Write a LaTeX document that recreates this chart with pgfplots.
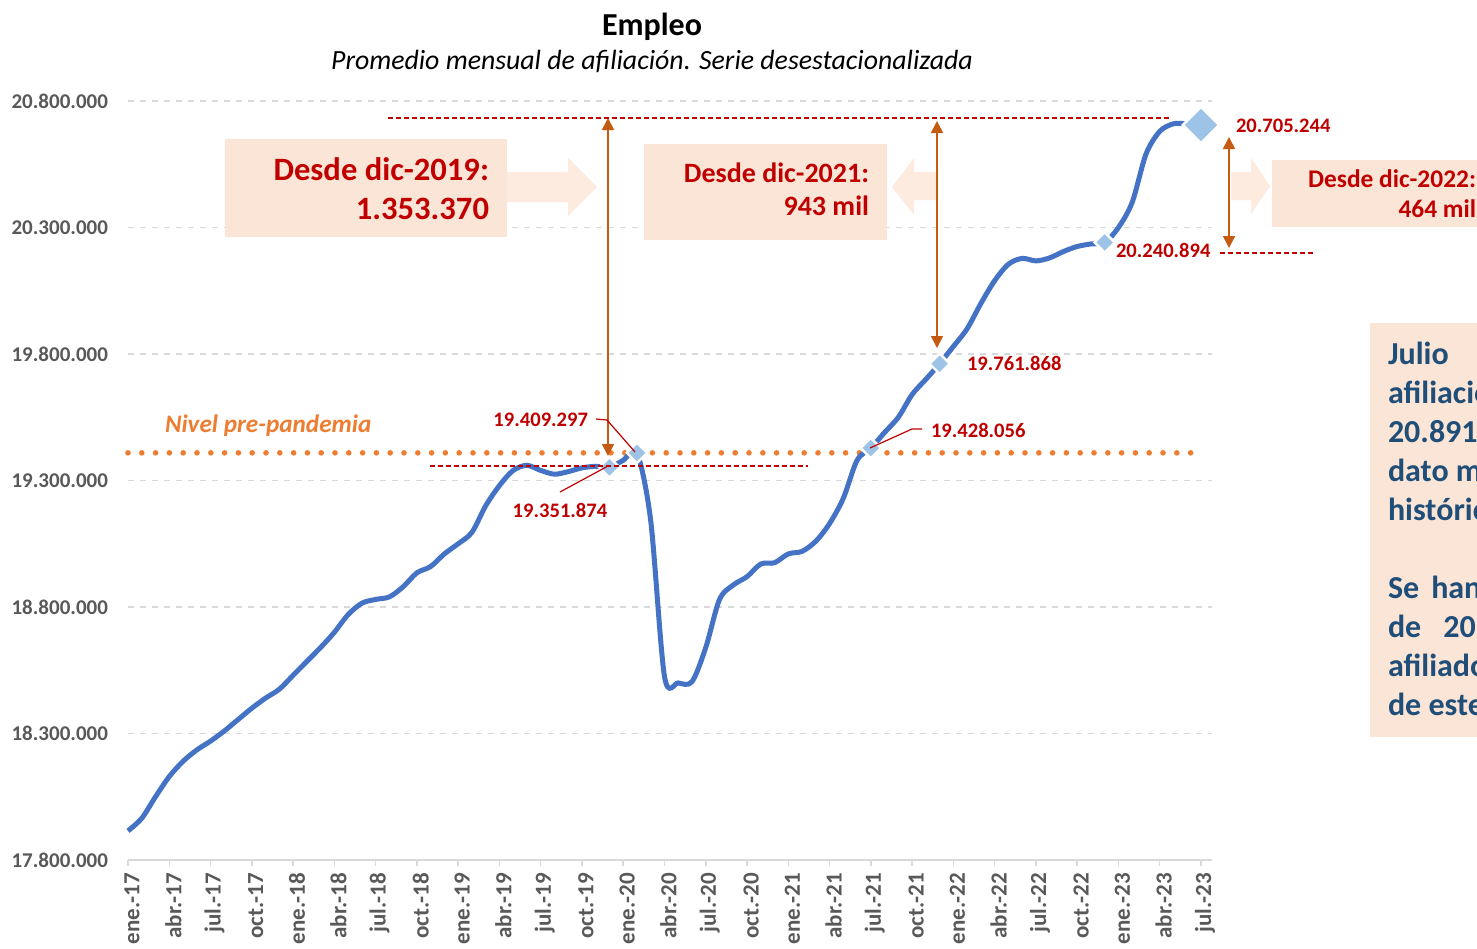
\documentclass[border=0pt]{standalone}
\usepackage{fontspec}
\setmainfont{Carlito}
\usepackage{pgfplots}
\pgfplotsset{compat=1.18}
\usetikzlibrary{arrows.meta}
\definecolor{lineblue}{HTML}{4472C4}
\definecolor{markblue}{HTML}{9DC3E6}
\definecolor{orangedot}{HTML}{ED7D31}
\definecolor{darkred}{HTML}{C00000}
\definecolor{boxfill}{HTML}{FBE5D6}
\definecolor{arrowfill}{HTML}{FDEBDF}
\definecolor{arrowor}{HTML}{C55A11}
\definecolor{textblue}{HTML}{1F4E79}
\definecolor{tickgrey}{HTML}{595959}
\definecolor{gridgrey}{HTML}{D9D9D9}
\newcommand\fs[2]{\fontsize{#1}{#2}\selectfont}

\pgfplotstableread{
x y
0 17915000
1 17965000
2 18050000
3 18130000
4 18190000
5 18235000
6 18270000
7 18310000
8 18355000
9 18400000
10 18440000
11 18475000
12 18530000
13 18585000
14 18640000
15 18700000
16 18770000
17 18815000
18 18830000
19 18840000
20 18880000
21 18935000
22 18960000
23 19010000
24 19050000
25 19095000
26 19200000
27 19280000
28 19340000
29 19360000
30 19340000
31 19325000
32 19335000
33 19350000
34 19356000
35 19351874
36 19380000
37 19409297
38 19140000
39 18525000
40 18500000
41 18505000
42 18640000
43 18830000
44 18887000
45 18920000
46 18970000
47 18975000
48 19010000
49 19020000
50 19060000
51 19130000
52 19230000
53 19380000
54 19428056
55 19490000
56 19550000
57 19640000
58 19700000
59 19761868
60 19830000
61 19900000
62 20000000
63 20090000
64 20155000
65 20178000
66 20168000
67 20180000
68 20205000
69 20225000
70 20235000
71 20240894
72 20300000
73 20400000
74 20590000
75 20680000
76 20710000
77 20710000
78 20705244
}\empleo

\begin{document}
\begin{tikzpicture}
\clip (0,0) rectangle (738.5pt,-474pt);
\useasboundingbox (0,0) rectangle (738.5pt,-474pt);
\fill[white] (0,0) rectangle (738.5pt,-474pt);

\begin{axis}[
  at={(64pt,-430pt)}, anchor=south west,
  scale only axis, width=542pt, height=379.5pt,
  xmin=0, xmax=78.8, ymin=17800000, ymax=20800000,
  scaled y ticks=false,
  axis line style={draw=none},
  ytick={17800000,18300000,18800000,19300000,19800000,20300000,20800000},
  yticklabels={17.800.000,18.300.000,18.800.000,19.300.000,19.800.000,20.300.000,20.800.000},
  xtick={0,3,...,78},
  xticklabels={ene.-17,abr.-17,jul.-17,oct.-17,ene.-18,abr.-18,jul.-18,oct.-18,ene.-19,abr.-19,jul.-19,oct.-19,ene.-20,abr.-20,jul.-20,oct.-20,ene.-21,abr.-21,jul.-21,oct.-21,ene.-22,abr.-22,jul.-22,oct.-22,ene.-23,abr.-23,jul.-23},
  ymajorgrids,
  grid style={color=gridgrey, line width=0.75pt, dash pattern=on 3pt off 3pt},
  y tick style={draw=none},
  x tick style={draw=gridgrey, line width=0.75pt},
  xtick pos=left, ytick pos=left, tick align=outside, major tick length=3pt,
  xticklabel style={rotate=90, anchor=east, font=\bfseries\fs{11.5}{13}, text=tickgrey, yshift=-2pt},
  yticklabel style={anchor=east, font=\bfseries\fs{10.5}{12}, text=tickgrey, xshift=-3.5pt},
  clip=false,
]
\addplot[orangedot, line width=2.8pt, line cap=round, dash pattern=on 0pt off 6.9pt] coordinates {(0,19409297) (78,19409297)};
\addplot[lineblue, line width=2.5pt, smooth, tension=0.5] table[x=x,y=y] {\empleo};
\addplot[only marks, mark=square*, mark size=3.6pt, mark options={rotate=45, fill=markblue, draw=white, line width=1.2pt}] coordinates {(35,19351874) (37,19409297) (54,19428056) (59,19761868) (71,20240894)};
\addplot[only marks, mark=square*, mark size=6.4pt, mark options={rotate=45, fill=markblue, draw=white, line width=1.2pt}] coordinates {(78,20705244)};
\end{axis}

\begin{scope}[x=0.5pt, y=-0.5pt, every node/.style={inner sep=0pt, outer sep=0pt}]
% bottom axis line
\draw[gridgrey, line width=0.75pt] (128,860) -- (1212,860);
% boxes
\fill[boxfill] (225,139) rectangle (507,237);
\fill[boxfill] (644,144) rectangle (887,240);
\fill[boxfill] (1272,160) rectangle (1490,227);
\fill[boxfill] (1370,323) rectangle (1490,737);
% block arrows
\fill[arrowfill] (507,172) -- (568,172) -- (568,158) -- (597,187) -- (568,216) -- (568,202) -- (507,202) -- cycle;
\fill[arrowfill] (937,172) -- (914,172) -- (914,158) -- (892,187) -- (914,215) -- (914,200) -- (937,200) -- cycle;
\fill[arrowfill] (1231,172) -- (1251,172) -- (1251,158) -- (1270,186) -- (1251,214) -- (1251,200) -- (1231,200) -- cycle;
% red dashed reference lines
\draw[darkred, line width=0.6pt, dash pattern=on 2.5pt off 1.5pt] (388,118) -- (1172,118);
\draw[darkred, line width=0.6pt, dash pattern=on 2.5pt off 1.5pt] (430,466) -- (808,466);
\draw[darkred, line width=0.6pt, dash pattern=on 2.5pt off 1.5pt] (1220,253) -- (1315,253);
% vertical arrows
\draw[arrowor, line width=0.8pt, {Triangle[width=6pt,length=6pt]}-{Triangle[width=6pt,length=6pt]}] (608,118) -- (608,456);
\draw[arrowor, line width=0.8pt, {Triangle[width=6pt,length=6pt]}-{Triangle[width=6pt,length=6pt]}] (937,121) -- (937,348);
\draw[arrowor, line width=0.8pt, {Triangle[width=6pt,length=6pt]}-{Triangle[width=6pt,length=6pt]}] (1229,137) -- (1229,248);
% leader lines
\draw[darkred, line width=0.6pt] (596,419) -- (607,420) -- (635,452);
\draw[darkred, line width=0.6pt] (560,492) -- (608,466);
\draw[darkred, line width=0.6pt] (922,429) -- (912,429) -- (870,448);
% titles
\node[anchor=base, font=\bfseries\fs{16}{19}] at (652,35) {Empleo};
\node[anchor=base, font=\itshape\fs{13.9}{16}] at (652,69) {Promedio mensual de afiliación. Serie desestacionalizada};
% box texts
\node[anchor=base east, text=darkred, font=\bfseries\fs{16.3}{19}] at (489,180) {Desde dic-2019:};
\node[anchor=base east, text=darkred, font=\bfseries\fs{16.3}{19}] at (489,219) {1.353.370};
\node[anchor=base east, text=darkred, font=\bfseries\fs{14}{17}] at (869,182) {Desde dic-2021:};
\node[anchor=base east, text=darkred, font=\bfseries\fs{14}{17}] at (869,215) {943 mil};
\node[anchor=base east, text=darkred, font=\bfseries\fs{12.7}{15}] at (1476,187) {Desde dic-2022:};
\node[anchor=base east, text=darkred, font=\bfseries\fs{12.7}{15}] at (1476,217) {464 mil};
% data labels
\node[anchor=base east, text=darkred, font=\bfseries\fs{10.3}{12}] at (588,426.5) {19.409.297};
\node[anchor=base, text=darkred, font=\bfseries\fs{10.3}{12}] at (560,517.5) {19.351.874};
\node[anchor=base west, text=darkred, font=\bfseries\fs{10.3}{12}] at (931,437.5) {19.428.056};
\node[anchor=base west, text=darkred, font=\bfseries\fs{10.3}{12}] at (967,370.5) {19.761.868};
\node[anchor=base west, text=darkred, font=\bfseries\fs{10.3}{12}] at (1116,257.5) {20.240.894};
\node[anchor=base west, text=darkred, font=\bfseries\fs{10.3}{12}] at (1236,132.5) {20.705.244};
\node[anchor=base west, text=orangedot, font=\bfseries\itshape\fs{12.6}{15}] at (165,432) {Nivel pre-pandemia};
% right text box
\begin{scope}[every node/.append style={anchor=base west, text=textblue, font=\bfseries\fs{16}{19}}]
\node at (1388,364) {Julio};
\node at (1388,403) {afiliación media};
\node at (1388,442) {20.891};
\node at (1388,481) {dato más alto};
\node at (1388,520) {histórico};
\node at (1388,598) {Se\hspace{6pt}han};
\node at (1388,637) {de\hspace{11pt}20};
\node at (1388,676) {afiliados};
\node at (1388,715) {de este año};
\end{scope}
\end{scope}
\end{tikzpicture}
\end{document}
